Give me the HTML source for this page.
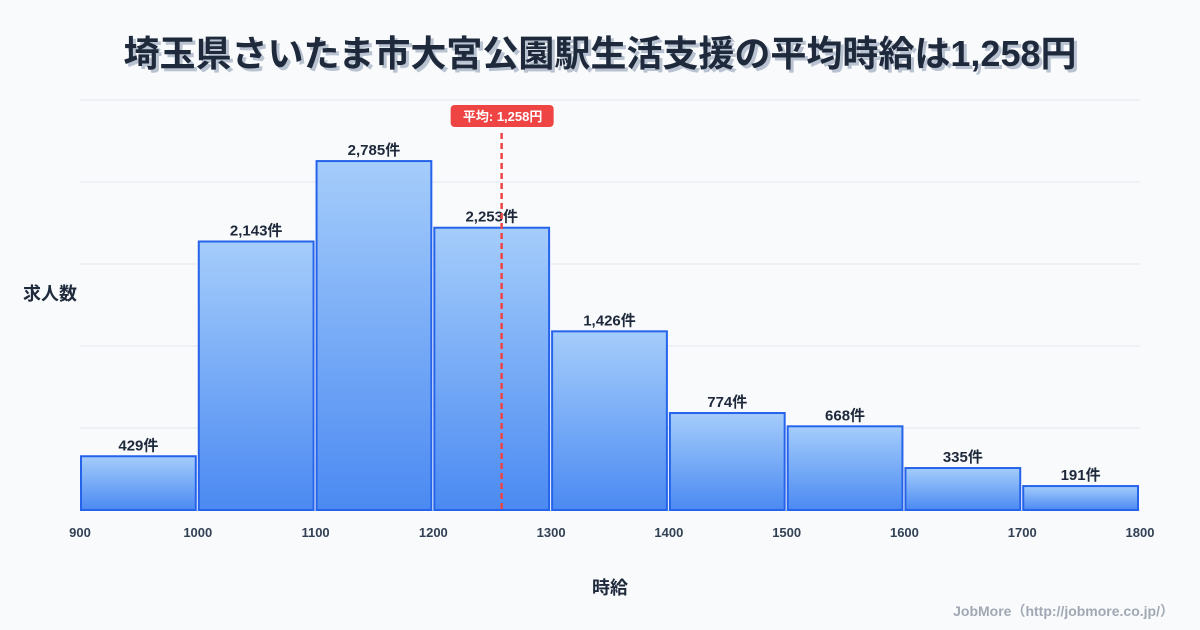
<!DOCTYPE html>
<html><head><meta charset="utf-8"><style>
body{margin:0;background:#f8fafc;}
svg{display:block;font-family:"Liberation Sans","Noto Sans CJK JP",sans-serif;}
</style></head><body>
<svg id="c" width="1200" height="630" viewBox="0 0 1200 630">
<defs><linearGradient id="g" x1="0" y1="0" x2="0" y2="1"><stop offset="0" stop-color="#a5cdfb"/><stop offset="1" stop-color="#4b8af2"/></linearGradient></defs>
<text x="603" y="69" text-anchor="middle" font-size="36" font-weight="bold" fill="#b8c2d0">埼玉県さいたま市大宮公園駅生活支援の平均時給は1,258円</text>
<text x="600" y="66" text-anchor="middle" font-size="36" font-weight="bold" fill="#1e293b">埼玉県さいたま市大宮公園駅生活支援の平均時給は1,258円</text>
<text x="50" y="300" text-anchor="middle" font-size="18" font-weight="bold" fill="#1e293b">求人数</text>
<text x="610" y="594" text-anchor="middle" font-size="18" font-weight="bold" fill="#1e293b">時給</text>
<text x="1174" y="616" text-anchor="end" font-size="14" font-weight="bold" fill="#a0a8b4">JobMore（http://jobmore.co.jp/）</text>
<g id="grid"></g><g id="bars"></g><g id="xt"></g><g id="avg"></g>
</svg>
<script>
const binStarts=[900,1000,1100,1200,1300,1400,1500,1600,1700];
const counts=[429,2143,2785,2253,1426,774,668,335,191];
const xTicks=[900,1000,1100,1200,1300,1400,1500,1600,1700,1800];
const average=1258;
const NS="http://www.w3.org/2000/svg";
const L=80,R=1140,B=510,T=100;
const xMin=900,xMax=1800;
const yMax=Math.max(...counts)*1.175;
const X=v=>L+(v-xMin)/(xMax-xMin)*(R-L);
const Y=v=>B-v/yMax*(B-T);
function mk(t,a,p){const e=document.createElementNS(NS,t);for(const k in a)e.setAttribute(k,a[k]);p.appendChild(e);return e;}
const grid=document.getElementById('grid');
for(let i=0;i<=5;i++){const y=B-(B-T)*i/5;
const l=mk('line',{x1:L,x2:R,y1:y,y2:y,stroke:i?'#e2e8f0':'#cbd5e1','stroke-width':1},grid);

}
const bars=document.getElementById('bars');
binStarts.forEach((s,i)=>{const x0=X(s)+1,x1=X(s+100)-2,y=Y(counts[i]);
const r=mk('rect',{x:x0,y:y,width:x1-x0,height:B-y,fill:'url(#g)',stroke:'#2563eb','stroke-width':2},bars);


const t=mk('text',{x:(x0+x1)/2,y:y-6,'text-anchor':'middle','font-size':15,'font-weight':'bold',fill:'#1e293b'},bars);
t.textContent=counts[i].toLocaleString('en-US')+'件';

});
const xt=document.getElementById('xt');
xTicks.forEach(v=>{const t=mk('text',{x:X(v),y:537,'text-anchor':'middle','font-size':13,'font-weight':'bold',fill:'#334155'},xt);
t.textContent=v;

});
const ag=document.getElementById('avg');const ax=X(average);
const dl=mk('line',{x1:ax,x2:ax,y1:133,y2:B,stroke:'#ef4444','stroke-width':2.5,'stroke-dasharray':'6,4'},ag);


const bx=mk('rect',{x:ax-51,y:105,width:103,height:22,rx:4,fill:'#ef4444'},ag);


const at=mk('text',{x:ax+1,y:121,'text-anchor':'middle','font-size':13,'font-weight':'bold',fill:'#fff'},ag);
at.textContent='平均: '+average.toLocaleString('en-US')+'円';


</script>
</body></html>
